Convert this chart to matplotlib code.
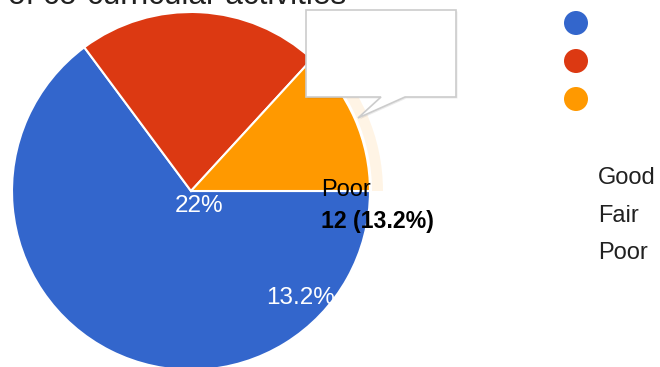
import matplotlib
matplotlib.use("Agg")
import matplotlib.pyplot as plt
from matplotlib.patches import Wedge, Circle, Polygon

plt.rcParams['font.family'] = ['Liberation Sans', 'DejaVu Sans']

# survey answers
labels = ['Good', 'Fair', 'Poor']
counts = [59, 20, 12]
colors = ['#3366cc', '#dc3912', '#ff9900']
title = 'of co-curricular activities'

W, H = 660, 367
total = sum(counts)
pcts = [100.0 * c / total for c in counts]

fig = plt.figure(figsize=(W / 100, H / 100), dpi=100)
ax = fig.add_axes([0, 0, 1, 1])

def py(y):
    # flip pixel row to data y
    return H - y

cx, cy, r = 191, py(191), 179

# pie, clockwise starting at 3 o'clock
wedges, _ = ax.pie(counts, colors=colors, startangle=0, counterclock=False,
                   center=(cx, cy), radius=r, frame=True,
                   wedgeprops=dict(edgecolor='white', linewidth=1.5))
ax.set_xlim(0, W)
ax.set_ylim(0, H)
ax.set_aspect('equal')
ax.axis('off')

# hover halo around the highlighted slice
poor = wedges[2]
ax.add_patch(Wedge((cx, cy), r + 13, poor.theta1, poor.theta2, width=11,
                   facecolor=colors[2], alpha=0.1, edgecolor='none'))

# slice labels
ax.text(199, py(212), '%d%%' % round(pcts[1]), color='white', fontsize=17.5,
        ha='center', va='baseline')
ax.text(301, py(304), '%.1f%%' % pcts[2], color='white', fontsize=17.5,
        ha='center', va='baseline')

# tooltip
tip = [(306, 10), (456, 10), (456, 97), (405, 97), (358, 118), (381, 97), (306, 97)]
shadow = Polygon([(x + 1.5, py(y + 1.5)) for x, y in tip], closed=True,
                 facecolor='#000000', alpha=0.08, edgecolor='none')
ax.add_patch(shadow)
ax.add_patch(Polygon([(x, py(y)) for x, y in tip], closed=True,
                     facecolor='white', edgecolor='#cccccc', linewidth=1.2))

ax.text(321, py(196), labels[2], fontsize=17, ha='left', va='baseline')
ax.text(321, py(228), '%d (%.1f%%)' % (counts[2], pcts[2]), fontsize=16.7,
        fontweight='bold', ha='left', va='baseline')

# title, partly off the top edge
ax.text(8, py(4), title, fontsize=22.7, ha='left', va='baseline', color='#212121')

# legend
for i, (lab, col) in enumerate(zip(labels, colors)):
    ax.add_patch(Circle((576, py(23 + 38 * i)), 12, facecolor=col, edgecolor='none'))
    ax.text(598, py(184 + 37.5 * i), lab, fontsize=17, ha='left', va='baseline',
            color='#212121')

fig.savefig('out.png', dpi=100)
